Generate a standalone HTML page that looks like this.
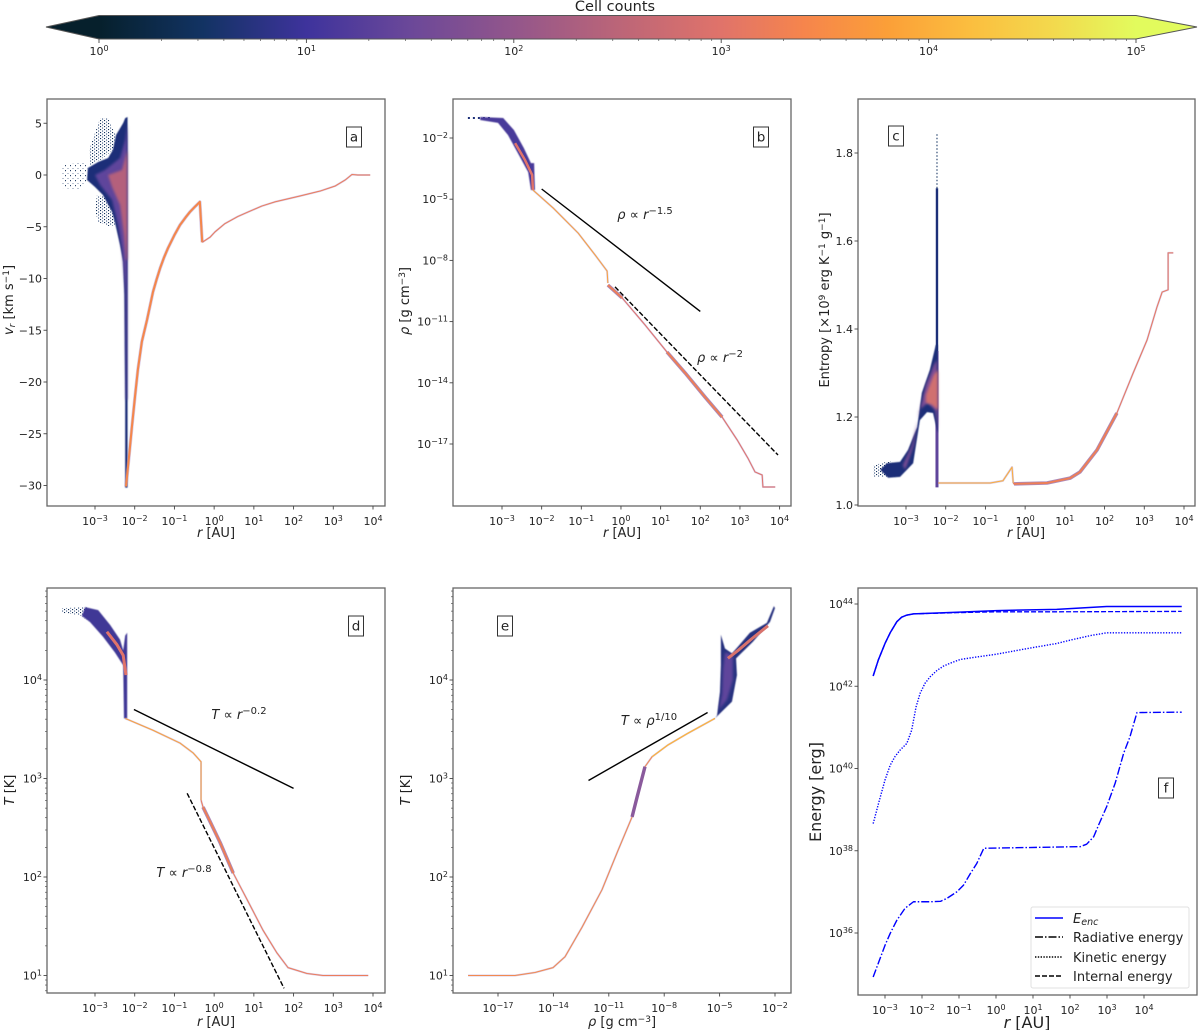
<!DOCTYPE html>
<html lang="en">
<head>
<meta charset="utf-8">
<title>Cell counts phase diagrams</title>
<style>
html,body{margin:0;padding:0;background:#fff;width:1200px;height:1030px;overflow:hidden}
svg{display:block;font-family:"DejaVu Sans","Liberation Sans",sans-serif;fill:#222}
.sm{font-size:13px}
.lab{font-size:13px}
.big{font-size:16px}
.it{font-style:italic}
.mid{text-anchor:middle}
</style>
</head>
<body>
<svg id="fig" xmlns="http://www.w3.org/2000/svg" width="1200" height="1030" viewBox="0 0 1200 1030">
<defs>
<pattern id="stipple" patternUnits="userSpaceOnUse" width="4" height="3">
<rect x="0" y="0" width="1.1" height="1.1" fill="#12305a"/>
<rect x="2" y="1.5" width="1.1" height="1.1" fill="#3a5580"/>
</pattern>
<pattern id="stippleSparse" patternUnits="userSpaceOnUse" width="5" height="5">
<rect x="0" y="0" width="1" height="1.2" fill="#2c4468"/>
<rect x="2.5" y="3" width="1" height="1" fill="#7e8ea8"/>
</pattern>
<filter id="soft" x="-40%" y="-40%" width="180%" height="180%"><feGaussianBlur stdDeviation="1.4"/></filter>
<filter id="softer" x="-40%" y="-40%" width="180%" height="180%"><feGaussianBlur stdDeviation="0.5"/></filter>
<linearGradient id="cbGrad" gradientUnits="userSpaceOnUse" x1="99" y1="0" x2="1136" y2="0"></linearGradient>
</defs>
<text x="615" y="11" class="mid" font-size="14.5">Cell counts</text>
<g id="cbar"></g>
<g id="panels"></g>

<text x="216" y="537" class="lab mid"><tspan class="it">r</tspan> [AU]</text>
<text x="622" y="537" class="lab mid"><tspan class="it">r</tspan> [AU]</text>
<text x="1026" y="537" class="lab mid"><tspan class="it">r</tspan> [AU]</text>
<text x="216" y="1026" class="lab mid"><tspan class="it">r</tspan> [AU]</text>
<text x="622" y="1026" class="lab mid"><tspan class="it">ρ</tspan> [g cm<tspan dy="-4" font-size="9">−3</tspan><tspan dy="4">]</tspan></text>
<text x="1027" y="1028" class="big mid"><tspan class="it">r</tspan> [AU]</text>

<text transform="translate(13,300) rotate(-90)" class="lab mid"><tspan class="it">v</tspan><tspan class="it" dy="2" font-size="9">r</tspan><tspan dy="-2"> [km s</tspan><tspan dy="-4" font-size="9">−1</tspan><tspan dy="4">]</tspan></text>
<text transform="translate(409,301) rotate(-90)" class="lab mid"><tspan class="it">ρ</tspan> [g cm<tspan dy="-4" font-size="9">−3</tspan><tspan dy="4">]</tspan></text>
<text transform="translate(829,300) rotate(-90)" class="lab mid">Entropy [×10<tspan dy="-4" font-size="9">9</tspan><tspan dy="4"> erg K</tspan><tspan dy="-4" font-size="9">−1</tspan><tspan dy="4"> g</tspan><tspan dy="-4" font-size="9">−1</tspan><tspan dy="4">]</tspan></text>
<text transform="translate(14,790) rotate(-90)" class="lab mid"><tspan class="it">T</tspan> [K]</text>
<text transform="translate(410,790) rotate(-90)" class="lab mid"><tspan class="it">T</tspan> [K]</text>
<text transform="translate(821,792) rotate(-90)" class="big mid">Energy [erg]</text>

<text x="645" y="219" class="sm mid"><tspan class="it">ρ</tspan> ∝ <tspan class="it">r</tspan><tspan dy="-5" font-size="10">−1.5</tspan></text>
<text x="720" y="362" class="sm mid"><tspan class="it">ρ</tspan> ∝ <tspan class="it">r</tspan><tspan dy="-5" font-size="10">−2</tspan></text>
<text x="239" y="719" class="sm mid"><tspan class="it">T</tspan> ∝ <tspan class="it">r</tspan><tspan dy="-5" font-size="10">−0.2</tspan></text>
<text x="184" y="877" class="sm mid"><tspan class="it">T</tspan> ∝ <tspan class="it">r</tspan><tspan dy="-5" font-size="10">−0.8</tspan></text>
<text x="649" y="725" class="sm mid"><tspan class="it">T</tspan> ∝ <tspan class="it">ρ</tspan><tspan dy="-5" font-size="10">1/10</tspan></text>

<g id="legend">
<rect x="1031" y="907" width="158" height="81" rx="2" fill="#fff" fill-opacity="0.85" stroke="#e0e0e0"/>
<line x1="1035" x2="1063" y1="918" y2="918" stroke="#0000ff" stroke-width="1.4"/>
<line x1="1035" x2="1063" y1="937" y2="937" stroke="#000" stroke-width="1.4" stroke-dasharray="8 2 1.5 2"/>
<line x1="1035" x2="1063" y1="957" y2="957" stroke="#000" stroke-width="1.4" stroke-dasharray="1.4 1.4"/>
<line x1="1035" x2="1063" y1="976" y2="976" stroke="#000" stroke-width="1.4" stroke-dasharray="5 2"/>
<text x="1073" y="923" font-size="13"><tspan class="it">E</tspan><tspan class="it" dy="2" font-size="9.5">enc</tspan></text>
<text x="1073" y="942" font-size="13">Radiative energy</text>
<text x="1073" y="962" font-size="13">Kinetic energy</text>
<text x="1073" y="981" font-size="13">Internal energy</text>
</g>
</svg>

<script>
/* ---------- colorbar ---------- */
const cbStopsLog = [0, 0.5, 1, 1.5, 2, 2.5, 3, 3.4, 3.8, 4.2, 4.6, 5];
const cbStopsColor = ['#06202c', '#123363', '#3e339c', '#6b4899', '#93568b', '#bb6578', '#e0736a', '#f6854c', '#fb9f38', '#fbbe3f', '#f3d94d', '#e2fb5d'];
const cbTicks = [0, 1, 2, 3, 4, 5];

/* ---------- shared ticks ---------- */
const rTicks = [-3, -2, -1, 0, 1, 2, 3, 4];
const aYTicks = [5, 0, -5, -10, -15, -20, -25, -30];
const bYTicks = [-2, -5, -8, -11, -14, -17];
const cYTicks = [1.0, 1.2, 1.4, 1.6, 1.8];
const tYTicks = [1, 2, 3, 4];
const eXTicks = [-17, -14, -11, -8, -5, -2];
const fYTicks = [36, 38, 40, 42, 44];

/* ---------- panel a: vr vs r ---------- */
const aLobeUpR = [-3.15, -2.87, -2.67, -2.57, -2.47, -2.55, -2.87, -3.13];
const aLobeUpV = [2.42, 5.5, 5.5, 4.54, 3.86, 2.42, 1.45, 0.97];
const aLobeLowR = [-2.95, -2.75, -2.57, -2.47, -2.67, -2.92, -3];
const aLobeLowV = [-1.93, -2.13, -3.57, -4.83, -4.93, -4.54, -3.38];
const aSparseR = [-3.83, -3.25, -3.18, -3.2, -3.38, -3.83];
const aSparseV = [0.97, 1.26, 0.68, -0.68, -1.45, -1.26];
const aOuterR = [-2.18, -2.24, -2.29, -2.47, -2.55, -2.67, -2.92, -3.18, -3.2, -3, -2.8, -2.57, -2.5, -2.37, -2.29, -2.26, -2.24, -2.24, -2.18];
const aOuterV = [5.6, 5.5, 5.02, 3.86, 2.42, 1.64, 1.26, 0.68, -0.48, -1.16, -1.93, -3.57, -4.54, -6.76, -8.41, -11.6, -21.7, -30.2, -30.2];
const aMidR = [-2.19, -2.24, -2.37, -2.75, -3, -2.87, -2.57, -2.42, -2.32, -2.24, -2.22, -2.19];
const aMidV = [4.83, 3.38, 1.64, 0.48, 0, -0.97, -2.42, -4.83, -7.25, -11.1, -21.7, -21.7];
const aCoreR = [-2.19, -2.32, -2.67, -2.57, -2.37, -2.27, -2.22, -2.19];
const aCoreV = [2.42, 0.48, 0, -1.16, -2.9, -5.8, -8.2, -8.2];
const aInfallR = [-2.22, -2.14, -2.07, -1.99, -1.92, -1.82, -1.69, -1.54, -1.45, -1.36, -1.26, -1.16, -1, -0.86, -0.72, -0.61, -0.48, -0.36, -0.3];
const aInfallV = [-30.1, -27.1, -24.3, -21.3, -18.8, -16.1, -14, -11.3, -10.1, -9, -7.95, -7.05, -5.8, -4.83, -4.1, -3.57, -3.05, -2.6, -6.5];
const aEnvelopeR = [-0.3, -0.1, 0.02, 0.27, 0.6, 0.9, 1.2, 1.53, 2.16, 2.67, 3.05, 3.3, 3.47, 3.62, 3.93];
const aEnvelopeV = [-6.5, -6, -5.5, -4.7, -4, -3.5, -3, -2.6, -2.03, -1.55, -1.06, -0.48, 0.05, 0, 0];

/* ---------- panel b: rho vs r ---------- */
const bOuterR = [-3.55, -2.97, -2.7, -2.45, -2.27, -2.19, -2.17, -2.27, -2.34, -2.6, -2.85, -3.1, -3.55];
const bOuterRho = [-0.97, -1.02, -1.61, -2.49, -3.23, -3.23, -4.55, -4.55, -3.67, -2.74, -1.85, -1.26, -1.12];
const bCoreR = [-2.67, -2.42, -2.24, -2.22];
const bCoreRho = [-2.25, -3.08, -3.81, -4.55];
const bSparseR = [-3.86, -3.55, -3.45, -3.3];
const bSparseRho = [-1.02, -1.02, -1.02, -1.02];
const bInnerR = [-2.22, -1.71, -1.08, -0.65, -0.35, -0.33];
const bInnerRho = [-4.55, -5.43, -6.66, -7.74, -8.52, -9.11];
const bOuterLineR = [-0.33, 0.03, 0.61, 1.16, 1.62, 2.12, 2.55, 2.93, 3.2, 3.38, 3.56, 3.58, 3.89];
const bOuterLineRho = [-9.21, -9.84, -11.17, -12.49, -13.52, -14.7, -15.68, -16.8, -17.69, -18.37, -18.52, -19.11, -19.11];
const bThickR = [1.16, 1.62, 2.12, 2.55];
const bThickRho = [-12.49, -13.52, -14.7, -15.68];
const bShockThickR = [-0.33, 0.03];
const bShockThickRho = [-9.21, -9.84];
const bFitSolidR = [-2, 2];
const bFitSolidRho = [-4.5, -10.5];
const bFitDashR = [-0.15, 3.96];
const bFitDashRho = [-9.3, -17.54];

/* ---------- panel c: entropy vs r ---------- */
const cSparseR = [-3.83, -3.4, -3.15, -3.27, -3.83];
const cSparseS = [1.09, 1.1, 1.08, 1.064, 1.064];
const cOuterR = [-3.65, -3.48, -3.15, -2.95, -2.72, -2.6, -2.4, -2.25, -2.2, -2.2, -2.32, -2.47, -2.65, -2.82, -3.15, -3.45];
const cOuterS = [1.08, 1.095, 1.098, 1.125, 1.177, 1.255, 1.307, 1.364, 1.364, 1.164, 1.209, 1.211, 1.193, 1.095, 1.064, 1.062];
const cMidR = [-3.08, -2.85, -2.65, -2.5, -2.3, -2.22, -2.2, -2.27, -2.45, -2.67, -2.8, -3.02];
const cMidS = [1.09, 1.136, 1.216, 1.273, 1.318, 1.33, 1.17, 1.216, 1.232, 1.216, 1.136, 1.08];
const cCoreR = [-2.5, -2.3, -2.2, -2.2, -2.35, -2.5];
const cCoreS = [1.25, 1.296, 1.307, 1.216, 1.228, 1.232];
const cInnerR = [-2.19, -0.88, -0.56, -0.33, -0.3];
const cInnerS = [1.05, 1.05, 1.055, 1.086, 1.05];
const cLineR = [-0.3, -0.28, 0.55, 1.13, 1.38, 1.81, 2.31, 2.72, 3.07, 3.32, 3.45, 3.6, 3.6, 3.73];
const cLineS = [1.05, 1.048, 1.05, 1.061, 1.075, 1.125, 1.209, 1.3, 1.375, 1.45, 1.484, 1.489, 1.573, 1.573];
const cThickR = [-0.28, 0.55, 1.13, 1.38, 1.81, 2.31];
const cThickS = [1.048, 1.05, 1.061, 1.075, 1.125, 1.209];

/* ---------- panel d: T vs r ---------- */
const dSparseR = [-3.83, -3.18, -3.13, -3.38, -3.83];
const dSparseT = [4.73, 4.74, 4.59, 4.66, 4.68];
const dOuterR = [-3.25, -2.92, -2.62, -2.37, -2.29, -2.24, -2.19, -2.19, -2.27, -2.29, -2.5, -2.8, -3.13, -3.33];
const dOuterT = [4.74, 4.71, 4.56, 4.41, 4.3, 4.45, 4.48, 3.61, 3.61, 4.15, 4.28, 4.44, 4.59, 4.65];
const dCoreR = [-2.7, -2.45, -2.29, -2.22];
const dCoreT = [4.49, 4.36, 4.25, 4.05];
const dLineR = [-2.24, -1.54, -0.86, -0.53, -0.33, -0.33];
const dLineT = [3.61, 3.49, 3.36, 3.26, 3.17, 2.78];
const dEnvelopeR = [-0.33, -0.28, -0.1, 0.15, 0.48, 0.83, 1.23, 1.58, 1.86, 2.34, 2.74, 3.88];
const dEnvelopeT = [2.78, 2.71, 2.56, 2.35, 2.04, 1.77, 1.46, 1.23, 1.08, 1.02, 1, 1];
const dThickR = [-0.28, -0.1, 0.15, 0.48];
const dThickT = [2.71, 2.56, 2.35, 2.04];
const dFitSolidR = [-2.02, 2];
const dFitSolidT = [3.7, 2.9];
const dFitDashR = [-0.68, 1.76];
const dFitDashT = [2.85, 0.87];

/* ---------- panel e: T vs rho ---------- */
const eLineRho = [-18.62, -16.08, -15, -14.02, -13.37, -12.45, -11.37, -10.5, -9.74, -9.47, -9.04, -8.66, -7.8, -6.71, -5.25];
const eLineT = [1, 1, 1.03, 1.08, 1.19, 1.49, 1.87, 2.27, 2.61, 2.81, 3.12, 3.22, 3.34, 3.46, 3.61];
const eYellowRho = [-8.66, -7.8, -6.71, -5.25];
const eYellowT = [3.22, 3.34, 3.46, 3.61];
const eThickRho = [-9.74, -9.47, -9.04];
const eThickT = [2.61, 2.81, 3.12];
const eOuterRho = [-5.25, -4.33, -4.06, -4.11, -3.19, -2.27, -2, -2.06, -2.44, -3.36, -4, -4.33, -4.71, -4.93, -4.93, -4.98, -5.14];
const eOuterT = [3.61, 3.78, 4.05, 4.22, 4.39, 4.59, 4.73, 4.75, 4.58, 4.48, 4.34, 4.27, 4.32, 4.46, 4.15, 3.88, 3.64];
const eMidRho = [-5.03, -4.6, -4.28, -4.28, -4.71, -4.82, -4.87];
const eMidT = [3.7, 3.8, 4, 4.25, 4.28, 4.1, 3.85];
const eCoreRho = [-4.55, -4, -3.25, -2.38];
const eCoreT = [4.22, 4.3, 4.42, 4.55];
const eFitRho = [-12.1, -5.65];
const eFitT = [2.98, 3.67];

/* ---------- panel f: energies ---------- */
const fTotalR = [-3.32, -3.18, -3, -2.86, -2.68, -2.55, -2.41, -2.23, -1.06, 0.02, 1.64, 2.99, 5.02];
const fTotalE = [42.25, 42.64, 43.04, 43.3, 43.57, 43.68, 43.73, 43.76, 43.8, 43.84, 43.87, 43.94, 43.94];
const fInternalR = [-3.32, -3.18, -3, -2.86, -2.68, -2.55, -2.41, -2.23, -1.06, 0.02, 1.64, 5.02];
const fInternalE = [42.25, 42.64, 43.04, 43.3, 43.57, 43.68, 43.73, 43.76, 43.79, 43.81, 43.81, 43.82];
const fKineticR = [-3.32, -3.16, -3, -2.86, -2.73, -2.59, -2.41, -2.28, -2.16, -2.05, -1.92, -1.78, -1.6, -1.42, -1.24, -0.97, -0.61, 0.02, 0.74, 1.64, 2, 2.54, 2.99, 5.02];
const fKineticE = [38.66, 39.2, 39.72, 40.08, 40.29, 40.45, 40.61, 40.93, 41.5, 41.83, 42.07, 42.23, 42.38, 42.49, 42.56, 42.65, 42.7, 42.78, 42.9, 43.04, 43.12, 43.23, 43.3, 43.3];
const fRadiativeR = [-3.32, -3.15, -3, -2.86, -2.68, -2.46, -2.23, -1.78, -1.5, -1.33, -1.06, -0.88, -0.69, -0.52, -0.33, 2.28, 2.45, 2.64, 2.77, 2.99, 3.22, 3.45, 3.62, 3.81, 5.02];
const fRadiativeE = [34.93, 35.34, 35.7, 35.99, 36.31, 36.6, 36.76, 36.76, 36.77, 36.84, 37, 37.16, 37.45, 37.69, 38.06, 38.1, 38.16, 38.34, 38.62, 39.07, 39.64, 40.37, 40.77, 41.36, 41.37];

/* ---------- helpers ---------- */
const NS = 'http://www.w3.org/2000/svg';
function mk(parent, tag, attrs, name) {
  const el = document.createElementNS(NS, tag);
  for (const k in attrs) el.setAttribute(k, attrs[k]);
  
  
  parent.appendChild(el);
  return el;
}
function scale(d0, p0, d1, p1) {
  return function (d) { return p0 + (d - d0) * (p1 - p0) / (d1 - d0); };
}
function pts(p, xs, ys) {
  return xs.map(function (x, i) { return p.x(x).toFixed(2) + ',' + p.y(ys[i]).toFixed(2); }).join(' ');
}
function area(p, xs, ys, fill, name, filter) {
  const attrs = { points: pts(p, xs, ys), fill: fill, stroke: 'none' };
  if (filter) attrs.filter = 'url(#' + filter + ')';
  return mk(p.g, 'polygon', attrs, name);
}
function curve(p, xs, ys, stroke, width, name, extra) {
  const attrs = { points: pts(p, xs, ys), fill: 'none', stroke: stroke, 'stroke-width': width, 'stroke-linejoin': 'round', 'stroke-linecap': 'butt' };
  if (extra) for (const k in extra) attrs[k] = extra[k];
  return mk(p.g, 'polyline', attrs, name);
}
function histLine(p, xs, ys, name, wide, col) {
  curve(p, xs, ys, '#a98cc8', wide, name + '-halo', { 'stroke-opacity': 0.45 });
  curve(p, xs, ys, col || '#f9a23e', Math.max(wide - 1.3, 1), name);
}
function thick(p, xs, ys, name) {
  curve(p, xs, ys, '#8a5a9c', 3.6, name + '-halo', { 'stroke-opacity': 0.7 });
  curve(p, xs, ys, '#ef7f55', 1.9, name);
}
function expLabel(p, x, y, exp, anchor, name) {
  const t = mk(p, 'text', { x: x, y: y, 'text-anchor': anchor, 'font-size': 11 }, name);
  t.appendChild(document.createTextNode('10'));
  const s = mk(t, 'tspan', { dy: -4, 'font-size': 8 }, name + '-exponent');
  s.textContent = String(exp).replace('-', '\u2212');
  return t;
}
function panel(id, box, xs, ys) {
  const g = mk(document.getElementById('panels'), 'g', {}, 'panel-' + id);
  return { id: id, box: box, x: xs, y: ys, g: g };
}
function frame(p, xTicks, yTicks, yLog, yMinor, tag, tagX, tagY) {
  const b = p.box;
  mk(p.g, 'rect', { x: b[0], y: b[1], width: b[2] - b[0], height: b[3] - b[1], fill: 'none', stroke: '#666', 'stroke-width': 1.3 }, 'panel-' + p.id + '-frame');
  xTicks.forEach(function (t) {
    const X = p.x(t);
    mk(p.g, 'line', { x1: X, x2: X, y1: b[3], y2: b[3] + 3.5, stroke: '#444', 'stroke-width': 0.9 }, 'x-tick');
    expLabel(p.g, X, b[3] + 19, t, 'middle', 'x-tick-label');
  });
  yTicks.forEach(function (t) {
    const Y = p.y(t);
    mk(p.g, 'line', { x1: b[0] - 3.5, x2: b[0], y1: Y, y2: Y, stroke: '#444', 'stroke-width': 0.9 }, 'y-tick');
    if (yLog) {
      expLabel(p.g, b[0] - 5, Y + 4, t, 'end', 'y-tick-label');
    } else {
      const lab = mk(p.g, 'text', { x: b[0] - 5, y: Y + 4, 'text-anchor': 'end', 'font-size': 11 }, 'y-tick-label');
      const isFloat = p.id === 'c';
      lab.textContent = (isFloat ? t.toFixed(1) : String(t)).replace('-', '\u2212');
    }
  });
  if (yMinor) {
    const lo = yTicks[0] - 1, hi = yTicks[yTicks.length - 1];
    for (let d = lo; d <= hi; d++) {
      [2, 3, 4, 5, 6, 7, 8, 9].forEach(function (m) {
        const Y = p.y(d + Math.log10(m));
        if (Y > b[1] && Y < b[3]) {
          mk(p.g, 'line', { x1: b[0] - 2, x2: b[0], y1: Y, y2: Y, stroke: '#555', 'stroke-width': 0.7 }, 'y-minor-tick');
        }
      });
    }
  }
  const w = 15, h = 20;
  mk(p.g, 'rect', { x: tagX - w / 2, y: tagY - h / 2, width: w, height: h, fill: '#fff', stroke: '#333', 'stroke-width': 1 }, 'panel-' + p.id + '-tag-box');
  const tt = mk(p.g, 'text', { x: tagX, y: tagY + 4.5, 'text-anchor': 'middle', 'font-size': 13.5 }, 'panel-' + p.id + '-tag');
  tt.textContent = tag;
}

/* ---------- colorbar drawing ---------- */
(function () {
  const cb = document.getElementById('cbar');
  const grad = document.getElementById('cbGrad');
  const cx = scale(0, 99, 5, 1136);
  cbStopsLog.forEach(function (v, i) {
    mk(grad, 'stop', { offset: (v / 5).toFixed(3), 'stop-color': cbStopsColor[i] }, 'colorbar-stop');
  });
  mk(cb, 'polygon', { points: '46,27 ' + cx(0) + ',15.5 ' + cx(5) + ',15.5 1197,27 ' + cx(5) + ',39 ' + cx(0) + ',39', fill: 'url(#cbGrad)', stroke: '#555', 'stroke-width': 1 }, 'colorbar-body');
  cbTicks.forEach(function (t) {
    const X = cx(t);
    mk(cb, 'line', { x1: X, x2: X, y1: 39, y2: 43, stroke: '#444', 'stroke-width': 0.9 }, 'colorbar-tick');
    expLabel(cb, X, 55, t, 'middle', 'colorbar-tick-label');
    if (t < 5) {
      [2, 3, 4, 5, 6, 7, 8, 9].forEach(function (m) {
        const Xm = cx(t + Math.log10(m));
        mk(cb, 'line', { x1: Xm, x2: Xm, y1: 39, y2: 41, stroke: '#555', 'stroke-width': 0.7 }, 'colorbar-minor-tick');
      });
    }
  });
})();

/* ---------- panels ---------- */
(function () {
  const NAVY = '#1c2f78', PURPLE = '#5f459b', PINK = '#b4607c', SALMON = '#e0736a';

  /* a */
  const a = panel('a', [47, 99, 385, 506], scale(-3, 95, 4, 373), scale(0, 175, -30, 485.5));
  area(a, aSparseR, aSparseV, 'url(#stippleSparse)', 'panel-a-sparse-cells-left');
  area(a, aLobeUpR, aLobeUpV, 'url(#stipple)', 'panel-a-sparse-cells-upper');
  area(a, aLobeLowR, aLobeLowV, 'url(#stipple)', 'panel-a-sparse-cells-lower');
  area(a, aOuterR, aOuterV, NAVY, 'panel-a-low-count-region', 'softer');
  area(a, aMidR, aMidV, PURPLE, 'panel-a-mid-count-region', 'soft');
  area(a, aCoreR, aCoreV, PINK, 'panel-a-high-count-region', 'soft');
  histLine(a, aInfallR, aInfallV, 'panel-a-infall-branch', 3.4, '#f4874c');
  histLine(a, aEnvelopeR, aEnvelopeV, 'panel-a-envelope-branch', 2, '#ec7d5c');

  /* b */
  const b = panel('b', [453, 99, 791, 506], scale(-3, 502, 4, 779.6), scale(-2, 138, -17, 444));
  curve(b, bSparseR, bSparseRho, NAVY, 2, 'panel-b-sparse-cells', { 'stroke-dasharray': '2 3' });
  area(b, bOuterR, bOuterRho, '#4a3a9a', 'panel-b-low-count-region', 'softer');
  curve(b, bCoreR, bCoreRho, SALMON, 2.5, 'panel-b-high-count-ridge');
  histLine(b, bInnerR, bInnerRho, 'panel-b-inner-branch', 2);
  histLine(b, bOuterLineR, bOuterLineRho, 'panel-b-outer-branch', 2, SALMON);
  thick(b, bThickR, bThickRho, 'panel-b-outer-thick');
  thick(b, bShockThickR, bShockThickRho, 'panel-b-shock-thick');
  curve(b, bFitSolidR, bFitSolidRho, '#000', 1.4, 'panel-b-fit-r-1-5');
  curve(b, bFitDashR, bFitDashRho, '#000', 1.4, 'panel-b-fit-r-2', { 'stroke-dasharray': '5 2' });

  /* c */
  const c = panel('c', [858, 99, 1195, 506], scale(-3, 906, 4, 1184), scale(1.8, 153, 1.2, 417));
  area(c, cSparseR, cSparseS, 'url(#stipple)', 'panel-c-sparse-cells');
  curve(c, [-2.22, -2.22], [1.72, 1.845], '#5a7090', 1.5, 'panel-c-spike-top', { 'stroke-dasharray': '1.5 2' });
  curve(c, [-2.22, -2.22], [1.72, 1.3], NAVY, 2.4, 'panel-c-spike');
  curve(c, [-2.22, -2.22], [1.35, 1.04], PURPLE, 3, 'panel-c-spike-base');
  area(c, cOuterR, cOuterS, NAVY, 'panel-c-low-count-region', 'softer');
  area(c, cMidR, cMidS, '#7c4e94', 'panel-c-mid-count-region', 'soft');
  area(c, cCoreR, cCoreS, '#d06f70', 'panel-c-high-count-region', 'soft');
  histLine(c, cInnerR, cInnerS, 'panel-c-inner-branch', 2.2, '#fbae3c');
  histLine(c, cLineR, cLineS, 'panel-c-envelope-branch', 2, '#e8785f');
  thick(c, cThickR, cThickS, 'panel-c-envelope-thick');

  /* d */
  const d = panel('d', [47, 588, 385, 993], scale(-3, 95, 4, 373), scale(4, 680, 1, 975.5));
  area(d, dSparseR, dSparseT, 'url(#stipple)', 'panel-d-sparse-cells');
  area(d, dOuterR, dOuterT, '#3f3796', 'panel-d-low-count-region', 'softer');
  curve(d, dCoreR, dCoreT, SALMON, 3, 'panel-d-high-count-ridge');
  histLine(d, dLineR, dLineT, 'panel-d-inner-branch', 2);
  histLine(d, dEnvelopeR, dEnvelopeT, 'panel-d-outer-branch', 2, '#ec7d5c');
  thick(d, dThickR, dThickT, 'panel-d-outer-thick');
  curve(d, dFitSolidR, dFitSolidT, '#000', 1.4, 'panel-d-fit-r-0-2');
  curve(d, dFitDashR, dFitDashT, '#000', 1.4, 'panel-d-fit-r-0-8', { 'stroke-dasharray': '5 2' });

  /* e */
  const e = panel('e', [453, 588, 791, 993], scale(-17, 498, -2, 775), scale(4, 680, 1, 975.5));
  histLine(e, eLineRho, eLineT, 'panel-e-branch', 2, '#f28a50');
  curve(e, eYellowRho, eYellowT, '#fbb640', 1.2, 'panel-e-branch-warm');
  curve(e, eThickRho, eThickT, '#8a5a9c', 3.4, 'panel-e-branch-thick');
  area(e, eOuterRho, eOuterT, '#27307f', 'panel-e-low-count-region', 'softer');
  area(e, eMidRho, eMidT, PURPLE, 'panel-e-mid-count-region', 'soft');
  curve(e, eCoreRho, eCoreT, '#d8726c', 3, 'panel-e-high-count-ridge');
  curve(e, eFitRho, eFitT, '#000', 1.4, 'panel-e-fit-rho');

  /* f */
  const f = panel('f', [858, 588, 1197, 995], scale(-3, 885, 4, 1144), scale(44, 604, 36, 933));
  curve(f, fInternalR, fInternalE, '#0000ff', 1.3, 'panel-f-internal-energy', { 'stroke-dasharray': '5 2' });
  curve(f, fTotalR, fTotalE, '#0000ff', 1.5, 'panel-f-enclosed-energy');
  curve(f, fKineticR, fKineticE, '#0000ff', 1.4, 'panel-f-kinetic-energy', { 'stroke-dasharray': '1.3 1.5' });
  curve(f, fRadiativeR, fRadiativeE, '#0000ff', 1.4, 'panel-f-radiative-energy', { 'stroke-dasharray': '8 2 1.5 2' });

  frame(a, rTicks, aYTicks, false, false, 'a', 354, 137);
  frame(b, rTicks, bYTicks, true, false, 'b', 761, 137);
  frame(c, rTicks, cYTicks, false, false, 'c', 896, 136);
  frame(d, rTicks, tYTicks, true, true, 'd', 356, 626);
  frame(e, eXTicks, tYTicks, true, true, 'e', 505, 626);
  frame(f, rTicks, fYTicks, true, false, 'f', 1166, 788);
})();
</script>
</body>
</html>
